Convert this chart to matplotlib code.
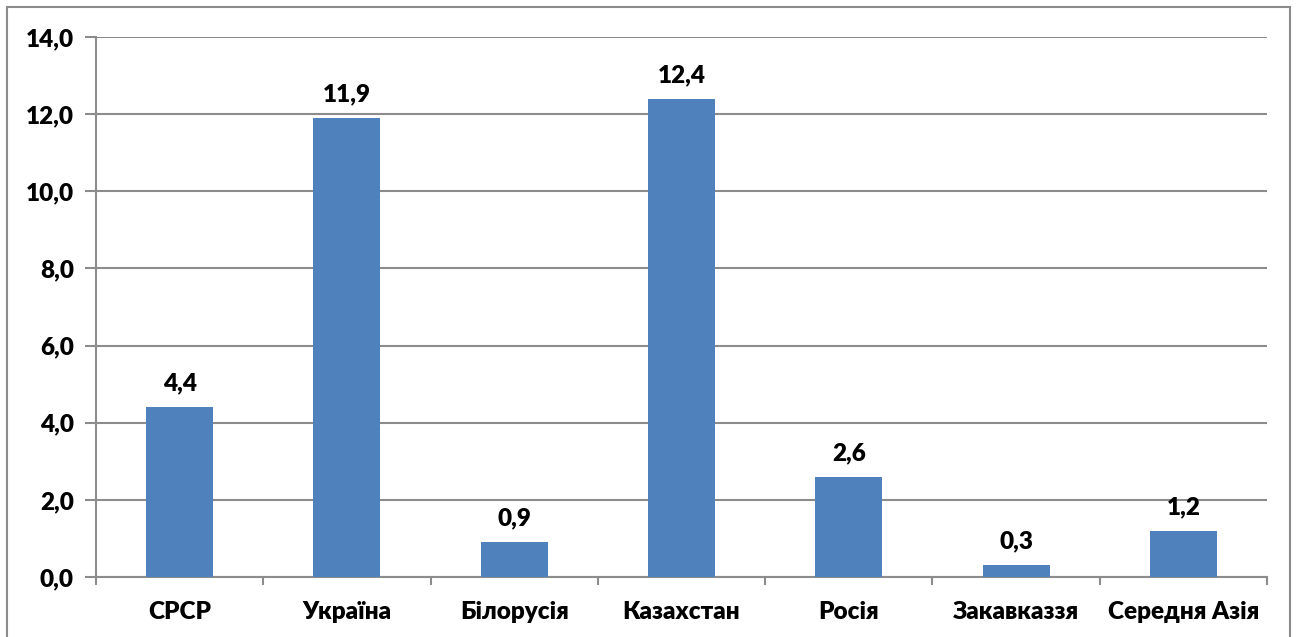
import matplotlib.pyplot as plt
from matplotlib.patches import Rectangle

regions = ["СРСР", "Україна", "Білорусія", "Казахстан", "Росія", "Закавказзя", "Середня Азія"]
values = [4.4, 11.9, 0.9, 12.4, 2.6, 0.3, 1.2]
y_ticks = [0, 2, 4, 6, 8, 10, 12, 14]

plt.rcParams["font.family"] = ["Lato", "DejaVu Sans"]
FS = 17.5
FW = "heavy"

fig = plt.figure(figsize=(12.98, 6.37), dpi=100)
ax = fig.add_axes([96 / 1298, 1 - 577 / 637, (1267 - 96) / 1298, (577 - 37) / 637])

# figure frame
fig.patches.append(Rectangle((7 / 1298, -0.01), (1290 - 7) / 1298, 1 - 7 / 637 + 0.01,
                             transform=fig.transFigure, fill=False,
                             edgecolor="#8c8c8c", linewidth=1.5))

x = range(len(regions))
ax.bar(x, values, width=0.4, color="#4F81BD", zorder=3)

for xi, v in zip(x, values):
    ax.text(xi, v + 0.33, f"{v:.1f}".replace(".", ","), ha="center", va="bottom",
            fontsize=FS, fontweight=FW)

ax.set_xlim(-0.5, len(regions) - 0.5)
ax.set_ylim(0, 14)
ax.set_yticks(y_ticks)
ax.set_yticklabels([f"{t:.1f}".replace(".", ",") for t in y_ticks], fontsize=FS, fontweight=FW)
ax.set_xticks(list(x))
ax.set_xticklabels(regions, fontsize=FS, fontweight=FW)
ax.tick_params(axis="x", length=0, pad=17)
ax.tick_params(axis="y", length=8, color="#8c8c8c", width=1.5, pad=8)

# category boundary ticks
ax.set_xticks([i - 0.5 for i in range(len(regions) + 1)], minor=True)
ax.tick_params(axis="x", which="minor", length=6, color="#8c8c8c", width=1.5)

ax.grid(axis="y", color="#8c8c8c", linewidth=1.5, zorder=0)
for side in ["top", "right"]:
    ax.spines[side].set_visible(False)
for side in ["left", "bottom"]:
    ax.spines[side].set_color("#8c8c8c")
    ax.spines[side].set_linewidth(1.5)

fig.savefig("out.png", dpi=100)
